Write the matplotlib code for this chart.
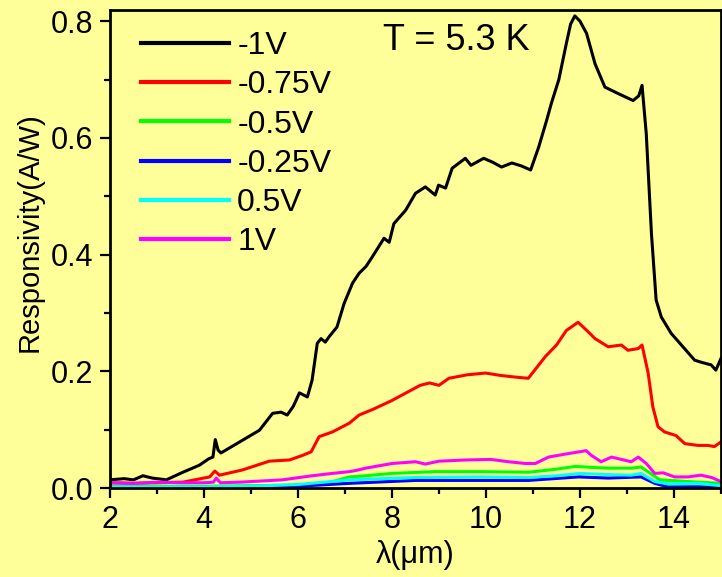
import numpy as np
import matplotlib
matplotlib.use("Agg")
import matplotlib.pyplot as plt
from matplotlib.ticker import MultipleLocator

plt.rcParams['font.family'] = ['Liberation Sans', 'DejaVu Sans']

# -1V
wl_m1 = [2.0, 2.3, 2.5, 2.7, 2.9, 3.2, 3.55, 3.9, 4.1, 4.19, 4.24, 4.3, 4.36, 4.76, 5.18,
         5.46, 5.64, 5.77, 5.9, 6.03, 6.2, 6.3, 6.41, 6.49, 6.58, 6.66, 6.83, 6.98, 7.16,
         7.3, 7.45, 7.58, 7.83, 7.94, 8.04, 8.29, 8.5, 8.71, 8.92, 8.99, 9.14, 9.28, 9.56,
         9.68, 9.95, 10.15, 10.33, 10.55, 10.75, 10.95, 11.12, 11.29, 11.39, 11.55, 11.71,
         11.8, 11.89, 12.0, 12.14, 12.32, 12.53, 12.81, 13.13, 13.25, 13.32, 13.41, 13.52,
         13.62, 13.73, 13.94, 14.19, 14.44, 14.6, 14.79, 14.89, 15.0]
r_m1 = [0.014, 0.016, 0.014, 0.021, 0.017, 0.014, 0.027, 0.039, 0.05, 0.053, 0.083, 0.065,
        0.06, 0.079, 0.099, 0.128, 0.13, 0.125, 0.14, 0.163, 0.156, 0.185, 0.248, 0.256,
        0.25, 0.259, 0.276, 0.316, 0.351, 0.368, 0.38, 0.396, 0.428, 0.421, 0.453, 0.476,
        0.505, 0.516, 0.502, 0.519, 0.514, 0.548, 0.565, 0.553, 0.565, 0.558, 0.55, 0.557,
        0.552, 0.545, 0.584, 0.63, 0.659, 0.7, 0.762, 0.795, 0.809, 0.8, 0.779, 0.727,
        0.687, 0.676, 0.664, 0.672, 0.69, 0.607, 0.436, 0.322, 0.293, 0.265, 0.242, 0.219,
        0.215, 0.211, 0.202, 0.222]

# -0.75V
wl_m075 = [2.0, 2.5, 3.0, 3.55, 4.12, 4.23, 4.33, 4.82, 5.39, 5.82, 6.1, 6.28, 6.45, 6.73,
           7.09, 7.3, 7.6, 8.0, 8.3, 8.6, 8.8, 9.0, 9.21, 9.6, 9.99, 10.3, 10.63, 10.9,
           11.26, 11.5, 11.71, 11.96, 12.17, 12.32, 12.6, 12.88, 13.02, 13.24, 13.32, 13.45,
           13.55, 13.66, 13.8, 14.04, 14.23, 14.51, 14.72, 14.86, 15.0]
r_m075 = [0.009, 0.008, 0.009, 0.01, 0.019, 0.029, 0.022, 0.031, 0.046, 0.048, 0.056, 0.062,
          0.088, 0.096, 0.111, 0.125, 0.135, 0.15, 0.163, 0.176, 0.18, 0.176, 0.188, 0.194,
          0.197, 0.193, 0.19, 0.188, 0.225, 0.245, 0.27, 0.284, 0.268, 0.256, 0.242, 0.245,
          0.236, 0.239, 0.245, 0.197, 0.139, 0.105, 0.096, 0.09, 0.076, 0.073, 0.073, 0.071,
          0.079]

# -0.5V
wl_m05 = [2.0, 3.0, 4.0, 5.0, 6.2, 6.7, 7.09, 7.3, 8.0, 8.92, 9.91, 10.9, 11.47, 11.9,
          12.32, 12.6, 13.09, 13.3, 13.5, 13.7, 14.3, 15.0]
r_m05 = [0.003, 0.003, 0.003, 0.004, 0.005, 0.01, 0.019, 0.02, 0.025, 0.028, 0.028, 0.027,
         0.032, 0.037, 0.035, 0.034, 0.034, 0.036, 0.025, 0.014, 0.011, 0.008]

# -0.25V
wl_m025 = [2.0, 4.0, 5.5, 6.0, 7.09, 8.5, 9.9, 10.9, 11.97, 12.6, 13.3, 13.59, 13.87, 15.0]
r_m025 = [0.001, 0.001, 0.002, 0.003, 0.008, 0.013, 0.013, 0.013, 0.019, 0.017, 0.019,
          0.008, 0.002, 0.002]

# 0.5V
wl_p05 = [2.0, 4.0, 5.0, 6.0, 7.09, 8.5, 9.9, 10.9, 11.5, 12.0, 12.6, 13.09, 13.3, 13.59,
          13.87, 14.5, 15.0]
r_p05 = [0.002, 0.002, 0.003, 0.006, 0.014, 0.018, 0.019, 0.018, 0.021, 0.025, 0.023,
         0.022, 0.025, 0.011, 0.007, 0.008, 0.004]

# 1V
wl_p1 = [2.0, 2.5, 3.0, 3.5, 4.0, 4.2, 4.26, 4.35, 4.76, 5.0, 5.67, 6.3, 6.73, 7.09, 7.23,
         7.44, 8.0, 8.5, 8.71, 9.0, 9.57, 10.1, 10.48, 10.84, 11.05, 11.33, 11.68, 12.13,
         12.24, 12.45, 12.67, 13.09, 13.24, 13.41, 13.59, 13.77, 14.01, 14.3, 14.57, 14.8,
         15.0]
r_p1 = [0.009, 0.008, 0.01, 0.009, 0.009, 0.01, 0.017, 0.009, 0.01, 0.011, 0.014, 0.021,
        0.025, 0.028, 0.03, 0.034, 0.042, 0.045, 0.041, 0.046, 0.048, 0.049, 0.045, 0.042,
        0.042, 0.053, 0.058, 0.064, 0.056, 0.045, 0.053, 0.045, 0.053, 0.042, 0.025, 0.026,
        0.019, 0.019, 0.022, 0.018, 0.011]

series = [
    (wl_m1, r_m1, '-1V', 'black'),
    (wl_m075, r_m075, '-0.75V', '#ff0000'),
    (wl_m05, r_m05, '-0.5V', '#00ff00'),
    (wl_m025, r_m025, '-0.25V', '#0000ff'),
    (wl_p05, r_p05, '0.5V', '#00ffff'),
    (wl_p1, r_p1, '1V', '#ff00ff'),
]

bg = '#ffff99'
fig = plt.figure(figsize=(7.22, 5.77), dpi=100, facecolor=bg)
ax = fig.add_axes([110 / 722, 89 / 577, 611 / 722, 478.5 / 577], facecolor=bg)

for x, y, lab, c in series:
    ax.plot(x, y, color=c, lw=2.2, label=lab)

ax.set_xlim(2, 15)
ax.set_ylim(0, 0.82)
ax.xaxis.set_major_locator(MultipleLocator(2))
ax.xaxis.set_minor_locator(MultipleLocator(1))
ax.yaxis.set_minor_locator(MultipleLocator(0.1))
ax.set_yticks([0, 0.2, 0.4, 0.6, 0.8])
ax.set_yticklabels(['0.0', '0.2', '0.4', '0.6', '0.8'])

ax.tick_params(which='major', direction='out', length=7, width=1.6, labelsize=22, pad=5)
ax.tick_params(which='minor', direction='out', length=4, width=1.6)
for s in ax.spines.values():
    s.set_linewidth(2)

ax.set_xlabel('λ(μm)', fontsize=22, labelpad=4)
ax.set_ylabel('Responsivity(A/W)', fontsize=21)
ax.yaxis.set_label_coords(-0.108, 0.535)

leg = ax.legend(loc='upper left', bbox_to_anchor=(0.02, 0.995), frameon=False,
                fontsize=23, handlelength=2.75, handletextpad=0.25, labelspacing=0.29,
                borderaxespad=0.2)
for h in leg.get_lines():
    h.set_linewidth(3)

ax.text(9.36, 0.767, 'T = 5.3 K', fontsize=26, ha='center', va='center')

fig.savefig('out.png', dpi=100, facecolor=bg)
